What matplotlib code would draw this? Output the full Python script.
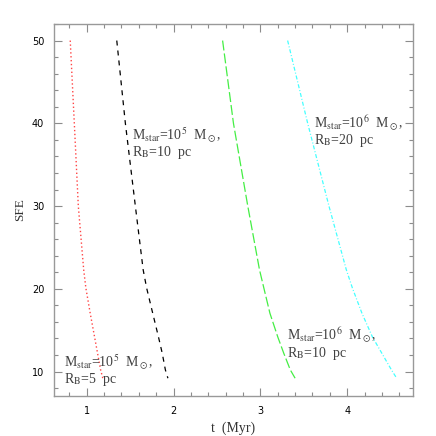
import matplotlib
matplotlib.use("Agg")
import matplotlib.pyplot as plt
from matplotlib.ticker import MultipleLocator

plt.rcParams["mathtext.fontset"] = "stix"
plt.rcParams["font.family"] = "DejaVu Sans"

# SFE vs t (Myr)
sfe = [50, 40, 30, 22.3, 20.1, 17.05, 14.2, 12.2, 10.2, 9.2]
t_red = [0.81, 0.857, 0.903, 0.965, 0.99, 1.04, 1.09, 1.125, 1.16, 1.185]     # 1e5 Msun, 5 pc
t_black = [1.346, 1.445, 1.56, 1.65, 1.69, 1.76, 1.826, 1.87, 1.906, 1.935]  # 1e5 Msun, 10 pc
t_green = [2.565, 2.69, 2.855, 2.99, 3.04, 3.11, 3.20, 3.27, 3.345, 3.40]    # 1e6 Msun, 10 pc
t_cyan = [3.314, 3.545, 3.79, 3.99, 4.06, 4.17, 4.29, 4.40, 4.51, 4.57]      # 1e6 Msun, 20 pc

fig = plt.figure(figsize=(4.36, 4.36), dpi=100)
ax = fig.add_axes([54/436, 1 - 396/436, (413-54)/436, (396-24)/436])

ax.plot(t_red, sfe, color="#ff4444", lw=1.0, linestyle=(0, (1, 1.8)))
ax.plot(t_black, sfe, color="black", lw=0.9, linestyle=(0, (4, 4)))
ax.plot(t_green, sfe, color="#44ee44", lw=0.9, linestyle=(0, (8, 2.4)))
ax.plot(t_cyan, sfe, color="#44ffff", lw=0.9, linestyle=(0, (3.2, 1.6, 0.8, 1.6)))

ax.set_xlim(0.623, 4.758)
ax.set_ylim(7.05, 52.0)
ax.xaxis.set_major_locator(MultipleLocator(1))
ax.xaxis.set_minor_locator(MultipleLocator(0.2))
ax.yaxis.set_major_locator(MultipleLocator(10))
ax.yaxis.set_minor_locator(MultipleLocator(2))
ax.tick_params(which="both", direction="in", top=True, right=True,
               color="0.55", labelsize=7)
ax.tick_params(which="major", length=6, width=0.8, pad=7)
ax.tick_params(which="minor", length=3, width=0.8)
for s in ax.spines.values():
    s.set_color("0.6")
    s.set_linewidth(1.0)

ax.set_xlabel("t  (Myr)", family="Liberation Serif", fontsize=10, color="0.2",
              labelpad=4)
ax.set_ylabel("SFE", family="Liberation Serif", fontsize=9.5, color="0.2",
              labelpad=4)

kw = dict(fontsize=10, color="0.25", family="Liberation Serif",
          transform=ax.transData, va="baseline", ha="left")
ax.text(0.738, 10.53, r"M$_{\rm star}$=10$^5$  M$_\odot$,", **kw)
ax.text(0.738, 8.67, r"R$_{\rm B}$=5  pc", **kw)
ax.text(1.52, 37.9, r"M$_{\rm star}$=10$^5$  M$_\odot$,", **kw)
ax.text(1.52, 36.0, r"R$_{\rm B}$=10  pc", **kw)
ax.text(3.31, 13.74, r"M$_{\rm star}$=10$^6$  M$_\odot$,", **kw)
ax.text(3.31, 11.8, r"R$_{\rm B}$=10  pc", **kw)
ax.text(3.62, 39.4, r"M$_{\rm star}$=10$^6$  M$_\odot$,", **kw)
ax.text(3.62, 37.5, r"R$_{\rm B}$=20  pc", **kw)

fig.savefig("out.png", dpi=100)
